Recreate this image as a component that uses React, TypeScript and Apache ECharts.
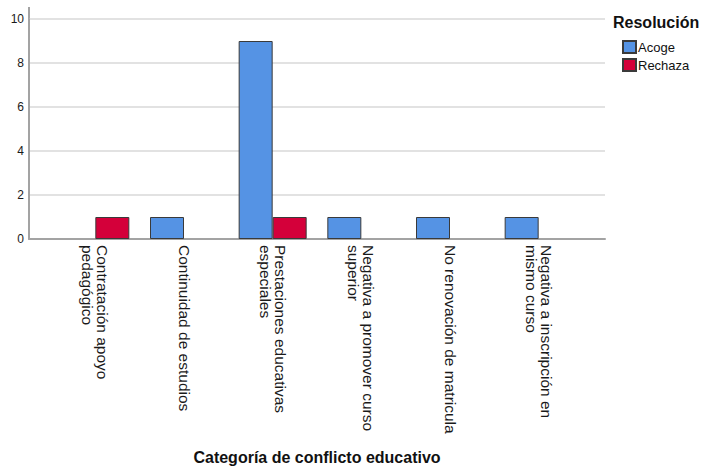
import React, { useEffect, useRef } from "react";
import * as echarts from "echarts";

const categories = [
  "Contratación apoyo\npedagógico",
  "Continuidad de estudios",
  "Prestaciones educativas\nespeciales",
  "Negativa a promover curso\nsuperior",
  "No renovación de matricula",
  "Negativa a inscripción en\nmismo curso",
];
const acoge: (number | null)[] = [null, 1, 9, 1, 1, 1];
const rechaza: (number | null)[] = [1, null, 1, null, null, null];
const seriesNames = ["Acoge", "Rechaza"];
const yTicks = { min: 0, max: 10, interval: 2 };
const legendTitle = "Resolución";
const xAxisTitle = "Categoría de conflicto educativo";

const FONT = "'Liberation Sans', Arial, sans-serif";
const AXIS_COLOR = "#a3a3a3";

export default function App() {
  const ref = useRef<HTMLDivElement>(null);
  useEffect(() => {
    if (!ref.current) return;
    const chart = echarts.init(ref.current, null, { renderer: "svg" });
    chart.setOption({
      animation: false,
      backgroundColor: "#ffffff",
      textStyle: { fontFamily: FONT },
      title: {
        text: legendTitle,
        left: 613,
        top: 14,
        padding: 0,
        textStyle: { fontFamily: FONT, fontSize: 16, fontWeight: "bold", color: "#111" },
      },
      legend: {
        data: seriesNames,
        orient: "vertical",
        left: 622,
        top: 40,
        padding: 0,
        itemWidth: 13,
        itemHeight: 12,
        itemGap: 4,
        icon: "rect",
        textStyle: { fontFamily: FONT, fontSize: 13, color: "#111", padding: [0, 0, 0, -3] },
      },
      graphic: [
        {
          type: "line",
          shape: { x1: 29, y1: 7, x2: 29, y2: 20 },
          style: { stroke: AXIS_COLOR, lineWidth: 2 },
          silent: true,
        },
      ],
      grid: [
        { left: 29, top: 19, width: 576, height: 220, containLabel: false, outerBoundsMode: "none" },
        { left: 51, top: 19, width: 532, height: 220, containLabel: false, outerBoundsMode: "none" },
      ],
      xAxis: [
        {
          type: "category",
          gridIndex: 0,
          data: [""],
          axisLine: { show: true, lineStyle: { color: AXIS_COLOR, width: 2 } },
          axisTick: { show: false },
          axisLabel: { show: false },
          splitLine: { show: false },
          name: xAxisTitle,
          nameLocation: "middle",
          nameGap: 210,
          nameTextStyle: { fontFamily: FONT, fontSize: 16, fontWeight: "bold", color: "#111" },
        },
        {
          type: "category",
          gridIndex: 1,
          data: categories,
          axisLine: { show: false },
          axisTick: { show: false },
          axisLabel: {
            interval: 0,
            rotate: -90,
            margin: 6,
            fontFamily: FONT,
            fontSize: 15.5,
            lineHeight: 15,
            color: "#1a1a1a",
          },
        },
      ],
      yAxis: [
        {
          type: "value",
          gridIndex: 0,
          min: yTicks.min,
          max: yTicks.max,
          interval: yTicks.interval,
          axisLine: { show: true, lineStyle: { color: AXIS_COLOR, width: 2 } },
          axisTick: { show: false },
          axisLabel: {
            fontFamily: FONT,
            fontSize: 12,
            margin: 5,
            color: "#1a1a1a",
          },
          splitLine: {
            show: true,
            showMinLine: false,
            lineStyle: { color: "#d9d9d9", width: 1.5 },
          },
        },
        {
          type: "value",
          gridIndex: 1,
          min: yTicks.min,
          max: yTicks.max,
          interval: yTicks.interval,
          show: false,
          splitLine: { show: false },
        },
      ],
      series: [
        {
          name: seriesNames[0],
          type: "bar",
          xAxisIndex: 1,
          yAxisIndex: 1,
          data: acoge,
          barWidth: 34,
          barGap: "0%",
          itemStyle: { color: "#5593e4", borderColor: "#3a3a3a", borderWidth: 1 },
        },
        {
          name: seriesNames[1],
          type: "bar",
          xAxisIndex: 1,
          yAxisIndex: 1,
          data: rechaza,
          barWidth: 34,
          barGap: "0%",
          itemStyle: { color: "#d4003a", borderColor: "#3a3a3a", borderWidth: 1 },
        },
      ],
    });
    return () => chart.dispose();
  }, []);
  return (
    <div
      ref={ref}
      style={{ position: "absolute", left: 0, top: 0, width: 701, height: 466 }}
    />
  );
}
